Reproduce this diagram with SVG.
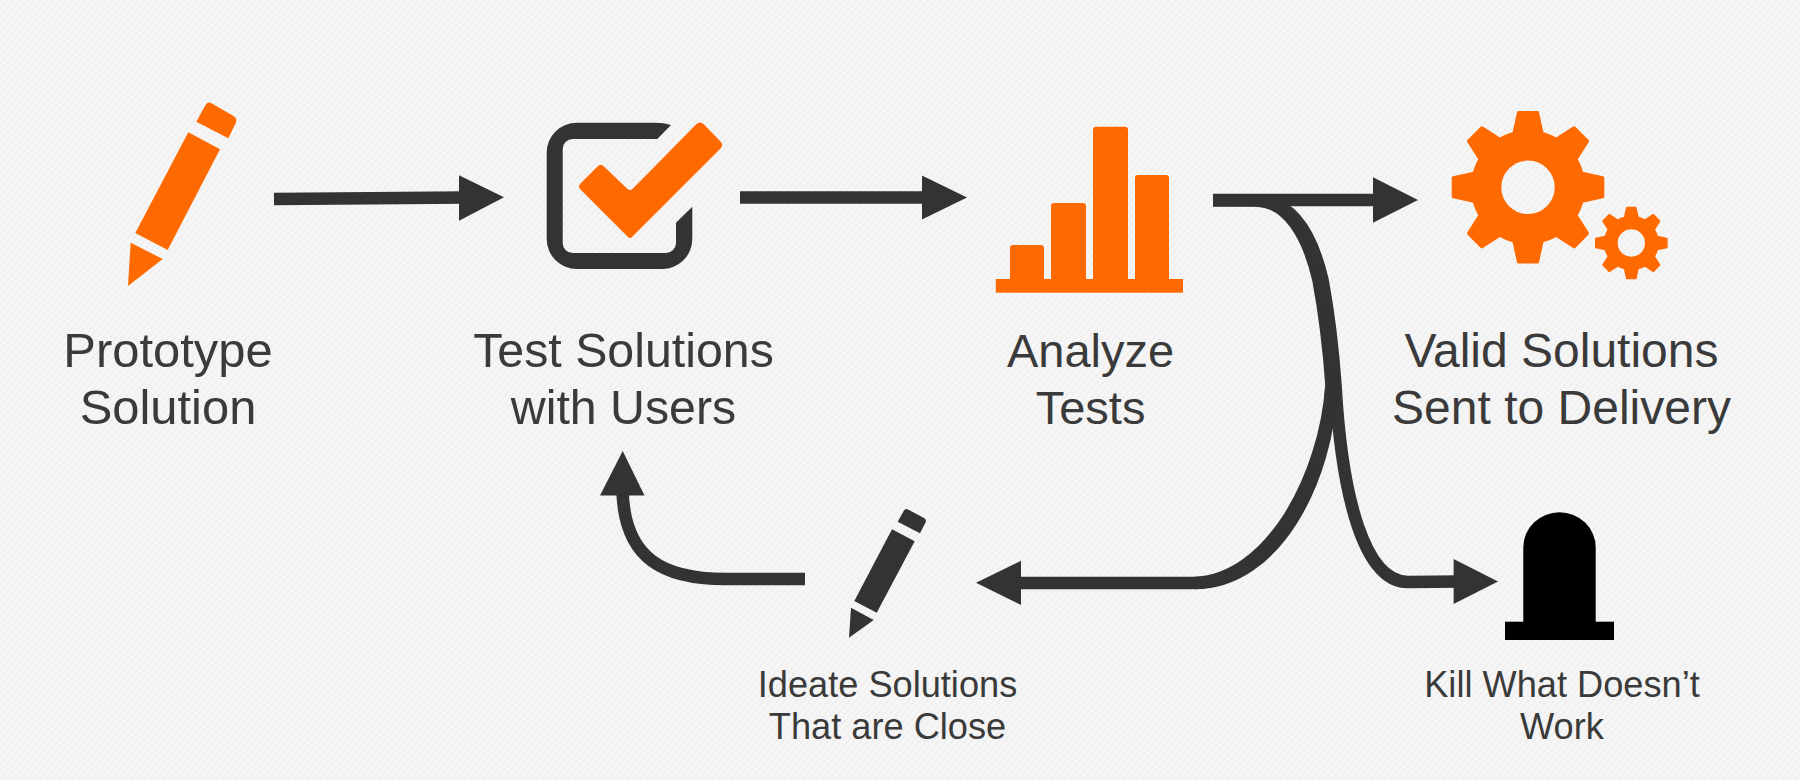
<svg xmlns="http://www.w3.org/2000/svg" width="1800" height="780" viewBox="0 0 1800 780">
<style>
.lbl{font-family:"Liberation Sans",Arial,sans-serif;fill:#3a3a3a;text-anchor:middle}
.big{font-size:48.300px}
.small{font-size:36.200px}
.or{fill:#ff6a00}
.dk{fill:#333333}
.ln{fill:none;stroke:#333333;stroke-width:12.500}
</style>
<defs>
<pattern id="tex" width="5" height="5" patternUnits="userSpaceOnUse" patternTransform="rotate(-50)">
<rect width="5" height="5" fill="#f6f6f6"/>
<rect width="5" height="2" fill="#f0f0f0"/>
</pattern>
<g id="teeth" class="or">
<path id="t" d="M-17,-50 L-15.300,-55.500 L-11,-75 Q-10.700,-76.300 -9.500,-76.300 L9.500,-76.300 Q10.700,-76.300 11,-75 L15.300,-55.500 L17,-50 Z"/>
<use href="#t" transform="rotate(45)"/>
<use href="#t" transform="rotate(90)"/>
<use href="#t" transform="rotate(135)"/>
<use href="#t" transform="rotate(180)"/>
<use href="#t" transform="rotate(225)"/>
<use href="#t" transform="rotate(270)"/>
<use href="#t" transform="rotate(315)"/>
</g>
</defs>
<rect id="background" width="1800" height="780" fill="url(#tex)"/>

<g id="connectors">
<path class="ln" d="M274,199 L465,197.500"/>
<polygon class="dk" points="459,175.300 504,197.300 459,220.700"/>
<path class="ln" d="M740,197.500 L928,197.500"/>
<polygon class="dk" points="922,175.500 967,197.500 922,219.500"/>
<path class="ln" d="M1213,200 L1378,200"/>
<polygon class="dk" points="1373,177.300 1418,200 1373,222.700"/>
<path class="ln" d="M1213,200.500 L1255,200.500 C1288,200.500 1308,235 1318.500,280 C1325,315 1329,350 1331.500,385 C1328,480 1275,583 1195,583 L1015,583"/>
<path class="ln" d="M1331.500,385 C1325,478 1270,580 1195,583"/>
<polygon class="dk" points="1021,560.700 976,582.700 1021,605"/>
<path class="ln" d="M1255,200.500 C1292,200.500 1312,235 1322.500,280 C1329,315 1333,350 1335.500,385 C1342,500 1365,582 1408,582 L1460,581.500"/>
<polygon class="dk" points="1453.600,559 1498,581.500 1453.600,604"/>
<path class="ln" d="M805,579 L725,579 C665,579 624,560 622.500,490"/>
<polygon class="dk" points="622.700,451 600,495.500 644.500,495.500"/>
</g>

<g id="node-prototype">
<path class="or" d="M196.300,121.700 L205.500,105 Q208,101.500 211,103 L233.500,116 Q237.500,118.500 236,122.500 L228.300,138.300 Z"/>
<polygon class="or" points="188.300,132.300 220,149.300 167.700,250 135.300,233"/>
<polygon class="or" points="130.700,242.700 162.700,259 128,286"/>
<text class="lbl" font-size="48.900" x="168" y="367">Prototype</text>
<text class="lbl" font-size="48.900" x="168" y="424">Solution</text>
</g>

<g id="node-test">
<path class="dk" d="M671,125 Q664,122.700 655,122.700 H577 A30,30 0 0 0 546.700,153 V239 A30,30 0 0 0 577,269 H662 A30,30 0 0 0 692.300,239 V206.700 L676,222.700 V243 A10,10 0 0 1 666,253 H573 A10,10 0 0 1 562.700,243 V149 A10,10 0 0 1 573,139 H657.300 Z"/>
<path class="or" d="M696.500,124 Q700,120.800 703.500,124 L720.500,141.500 Q724,145 720.500,148.500 L632.500,236.500 Q630,239.500 627.500,236.500 L581,190 Q577,186.700 581,183 L597.500,166.500 Q600.700,163 604,166.500 L627.500,189 Q630,191 632.500,189 Z"/>
<text class="lbl big" x="623.500" y="367">Test Solutions</text>
<text class="lbl big" x="623.500" y="424">with Users</text>
</g>

<g id="node-analyze">
<rect class="or" x="995.800" y="279" width="187.200" height="13.700"/>
<path class="or" d="M1010,280 V248 Q1010,245 1013,245 H1041 Q1044,245 1044,248 V280 Z"/>
<path class="or" d="M1051,280 V206 Q1051,203 1054,203 H1083 Q1086,203 1086,206 V280 Z"/>
<path class="or" d="M1093,280 V130 Q1093,126.700 1096,126.700 H1125 Q1128,126.700 1128,130 V280 Z"/>
<path class="or" d="M1135,280 V178 Q1135,175 1138,175 H1166 Q1169,175 1169,178 V280 Z"/>
<text class="lbl" font-size="47" x="1090.600" y="367">Analyze</text>
<text class="lbl" font-size="47" x="1090.600" y="424">Tests</text>
</g>

<g id="node-valid">
<use href="#teeth" transform="translate(1528,187.300)"/>
<circle cx="1528" cy="187.300" r="41.850" fill="none" stroke="#ff6a00" stroke-width="30.300"/>
<use href="#teeth" transform="translate(1631.300,243) scale(0.476)"/>
<circle cx="1631.300" cy="243" r="20.500" fill="none" stroke="#ff6a00" stroke-width="13.700"/>
<text class="lbl" font-size="48" x="1561.500" y="367">Valid Solutions</text>
<text class="lbl" font-size="48" x="1561.500" y="424">Sent to Delivery</text>
</g>

<g id="node-ideate">
<path class="dk" d="M897.700,521.700 L904,510.500 Q905.500,508 908,509.500 L924,518 Q927,520 925.500,522.500 L920,533.300 Z"/>
<polygon class="dk" points="892,529.300 914.700,541.300 876.700,612.700 854.300,601"/>
<polygon class="dk" points="851,607.700 873.700,620 849,637.700"/>
<text class="lbl small" x="887.500" y="697">Ideate Solutions</text>
<text class="lbl small" x="887.500" y="739">That are Close</text>
</g>

<g id="node-kill">
<path d="M1523.300,625 V547.300 A36.200,35 0 0 1 1595.700,547.300 V625 Z" fill="#000"/>
<rect x="1505" y="621.700" width="109" height="18.300" fill="#000"/>
<text class="lbl small" x="1562" y="697">Kill What Doesn’t</text>
<text class="lbl small" x="1562" y="739">Work</text>
</g>
</svg>
